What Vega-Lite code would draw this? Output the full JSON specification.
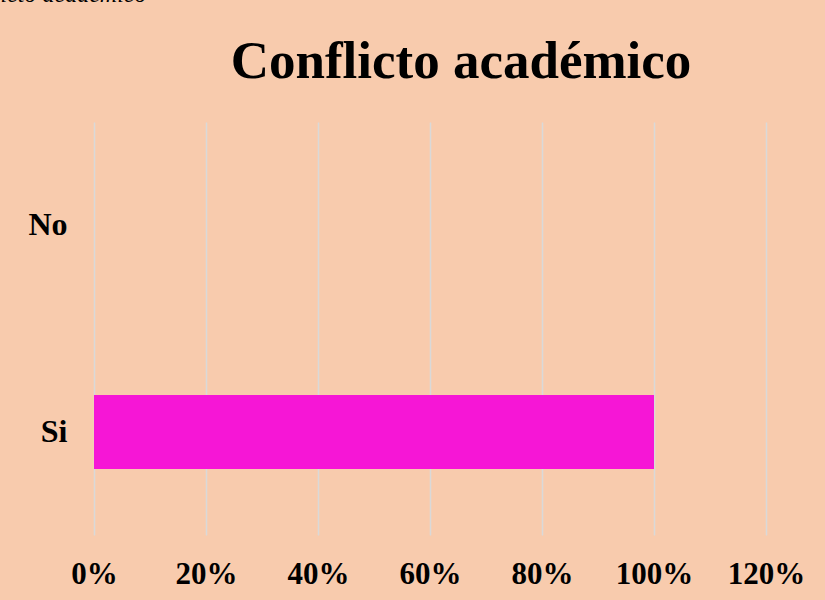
{
  "$schema": "https://vega.github.io/schema/vega-lite/v6.json",
  "autosize": {"type": "none"},
  "width": 672,
  "height": 413,
  "padding": {"left": 94, "top": 122, "right": 59, "bottom": 65},
  "background": "#f8cbad",
  "title": {
    "text": "Conflicto académico",
    "font": "Liberation Serif",
    "fontSize": 53,
    "fontWeight": "bold",
    "color": "#000000",
    "anchor": "middle",
    "frame": "group",
    "dx": 31,
    "baseline": "alphabetic",
    "offset": -149
  },
  "data": {
    "values": [
      {"respuesta": "No", "valor": 0},
      {"respuesta": "Si", "valor": 1}
    ]
  },
  "mark": {"type": "bar", "color": "#f616d6"},
  "encoding": {
    "y": {
      "field": "respuesta",
      "type": "nominal",
      "sort": ["No", "Si"],
      "scale": {"paddingInner": 0.6425, "paddingOuter": 0.319},
      "axis": {
        "title": null,
        "domain": false,
        "ticks": false,
        "grid": false,
        "labelFont": "Liberation Serif",
        "labelFontSize": 32,
        "labelFontWeight": "bold",
        "labelColor": "#000000",
        "labelPadding": 27
      }
    },
    "x": {
      "field": "valor",
      "type": "quantitative",
      "scale": {"domain": [0, 1.2], "nice": false},
      "axis": {
        "title": "Conflicto académico",
        "titleFont": "Liberation Serif",
        "titleFontSize": 24,
        "titleFontStyle": "italic",
        "titleFontWeight": "normal",
        "titleColor": "#000000",
        "titleAlign": "right",
        "titleBaseline": "alphabetic",
        "titleAnchor": null,
        "titleX": 52,
        "titleY": -534,
        "format": ".0%",
        "values": [0, 0.2, 0.4, 0.6, 0.8, 1.0, 1.2],
        "domain": false,
        "ticks": false,
        "grid": true,
        "gridColor": "#d9d9d9",
        "gridWidth": 1.5,
        "labelFont": "Liberation Serif",
        "labelFontSize": 31,
        "labelFontWeight": "bold",
        "labelColor": "#000000",
        "labelBaseline": "alphabetic",
        "labelPadding": 48,
        "labelFlush": false,
        "labelOverlap": false
      }
    }
  },
  "config": {"view": {"stroke": null}}
}
